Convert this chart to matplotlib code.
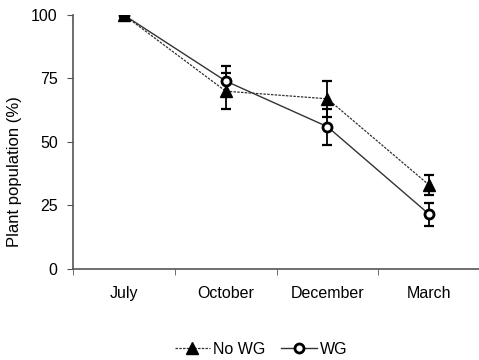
import matplotlib
matplotlib.use("Agg")
import matplotlib.pyplot as plt
import numpy as np

plt.rcParams['font.family'] = ['Liberation Sans', 'DejaVu Sans']

categories = ["July", "October", "December", "March"]
no_wg = [100, 70, 67, 33]
no_wg_err = [0, 7, 7, 4]
wg = [100, 74, 56, 21.5]
wg_err = [0, 6, 7, 4.5]
yticks = [0, 25, 50, 75, 100]

fig = plt.figure(figsize=(4.79, 3.6), dpi=100)
ax = fig.add_axes([0.1524, 0.2528, 0.85, 0.7056])

x = np.arange(len(categories))
c = '#333333'

def draw_err(vals, errs):
    v = np.array(vals, float)
    e = np.array(errs, float)
    m = e > 0
    ax.errorbar(x[m], v[m], yerr=e[m], fmt='none', ecolor='black', elinewidth=1.3,
                capsize=3.5, capthick=1.6, zorder=2)

draw_err(wg, wg_err)
draw_err(no_wg, no_wg_err)
l2, = ax.plot(x, wg, color=c, linestyle='-', linewidth=1.0,
              marker='o', markersize=6.5, markerfacecolor='white', markeredgecolor='black',
              markeredgewidth=2.0, label='WG', zorder=3)
l1, = ax.plot(x, no_wg, color=c, linestyle=(0, (2, 1)), linewidth=0.9,
              marker='^', markersize=8, markerfacecolor='black', markeredgecolor='black',
              label='No WG', zorder=4)

ax.set_xlim(-0.5, len(categories) - 0.5)
ax.set_ylim(0, 100)
ax.set_yticks(yticks)
ax.set_xticks(x)
ax.set_xticklabels(categories, fontsize=11.5)
ax.tick_params(axis='x', which='major', length=0, pad=12)
ax.set_xticks(np.arange(-0.5, len(categories) - 0.4, 1), minor=True)
ax.tick_params(axis='x', which='minor', length=4, direction='out', color='#555555')
ax.tick_params(axis='y', length=4, direction='out', color='#555555', labelsize=11.5, pad=7)
ax.set_ylabel("Plant population (%)", fontsize=12)
ax.yaxis.set_label_coords(-0.125, 0.385)

for s in ['top', 'right']:
    ax.spines[s].set_visible(False)
for s in ['left', 'bottom']:
    ax.spines[s].set_color('#555555')
    ax.spines[s].set_linewidth(1.2)

leg = fig.legend(handles=[l1, l2], loc='center', bbox_to_anchor=(0.545, 0.03), ncol=2,
                 frameon=False, fontsize=11.5, handlelength=2.2, columnspacing=1.0,
                 handletextpad=0.2, borderpad=0)

fig.savefig("out.png", dpi=100)
